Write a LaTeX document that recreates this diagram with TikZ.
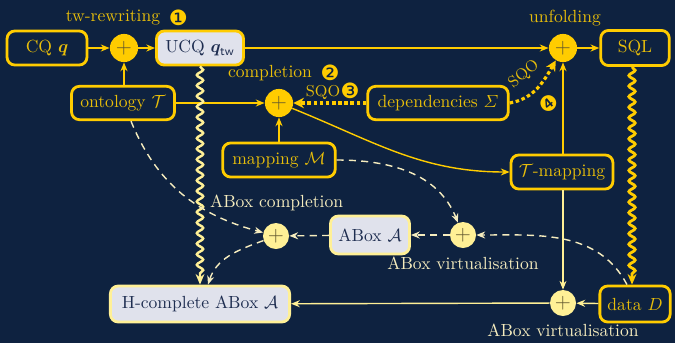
\documentclass[tikz,border=0pt]{standalone}
\usepackage{amsmath}
\usepackage{fontspec}
\usepackage{bm}
\newfontfamily\dingfont{DejaVu Sans}
\usetikzlibrary{arrows.meta,decorations.pathmorphing,calc}
\definecolor{bg}{RGB}{14,34,64}
\definecolor{yel}{RGB}{255,204,0}
\definecolor{yeltext}{RGB}{232,190,10}
\definecolor{ltyel}{RGB}{255,240,150}
\definecolor{cream}{RGB}{245,236,190}
\definecolor{boxfill}{RGB}{224,226,236}
\definecolor{navy}{RGB}{30,45,80}
\definecolor{plusc}{RGB}{95,85,45}
\tikzset{
  box/.style={draw=yel, line width=1.6pt, rounded corners=4.5pt, text=yeltext, minimum height=19.4pt, inner sep=2pt},
  greybox/.style={box, draw=ltyel, fill=boxfill, text=navy},
  uboxst/.style={box, fill=boxfill, text=navy},
  plusnode/.style={circle, fill=yel, minimum size=16pt, inner sep=0pt, text=plusc, font=\large},
  ltplus/.style={plusnode, fill=ltyel, minimum size=14.8pt},
  arr/.style={-{Stealth[length=5pt,width=4pt]}, draw=yel, line width=0.8pt},
  ltarr/.style={arr, draw=ltyel},
  dsh/.style={-{Stealth[length=5pt,width=4pt]}, draw=cream, line width=0.8pt, dash pattern=on 4pt off 3pt},
  dotline/.style={draw=yel, line width=1.8pt, dash pattern=on 2pt off 1.5pt, -{Stealth[length=6pt,width=6pt]}},
  snk/.style={decorate, decoration={snake, amplitude=1.8pt, segment length=6pt, post length=5pt}},
  lbl/.style={text=yeltext, inner sep=1pt},
  ltlbl/.style={text=cream, inner sep=1pt},
  cnum/.style={font=\large\dingfont, text=yel, inner sep=0.5pt}
}
\begin{document}
\begin{tikzpicture}[x=0.569pt,y=0.569pt]
\fill[bg] (0,0) rectangle (675,-343);
\useasboundingbox (0,0) rectangle (675,-343);

% nodes
\node[box, minimum width=45.5pt] (cq) at (47,-48) {CQ $\bm{q}$};
\node[plusnode] (p1) at (124,-48) {$+$};
\node[uboxst, minimum width=49.5pt] (ucq) at (200,-48) {UCQ $\bm{q}_{\mathsf{tw}}$};
\node[plusnode] (unf) at (563,-48) {$+$};
\node[box, minimum width=39pt, minimum height=20pt] (sql) at (635,-48) {SQL};
\node[box, minimum width=58.6pt, minimum height=19pt] (ont) at (123,-103) {ontology $\mathcal{T}$};
\node[plusnode] (comp) at (279,-103) {$+$};
\node[box, minimum width=80pt, minimum height=19pt] (dep) at (438,-103) {dependencies $\varSigma$};
\node[box, minimum width=64pt] (map) at (279,-160) {mapping $\mathcal{M}$};
\node[box, minimum width=58pt] (tmap) at (562,-172) {$\mathcal{T}$-mapping};
\node[ltplus] (pc) at (276,-236) {$+$};
\node[greybox, minimum width=45pt, minimum height=21.6pt] (abox) at (370,-235) {ABox $\mathcal{A}$};
\node[ltplus] (pv) at (463,-235) {$+$};
\node[greybox, minimum width=102pt, minimum height=20.5pt] (hc) at (200,-304) {H-complete ABox $\mathcal{A}$};
\node[ltplus] (pb) at (563,-303) {$+$};
\node[box, minimum width=40pt, minimum height=20.5pt] (data) at (635,-304) {data $D$};

% connectors
\draw[arr] (cq) -- (p1);
\draw[arr] (p1) -- (ucq);
\draw[arr] (ont.north -| p1) -- (p1);
\draw[arr] (ont) -- (comp);
\draw[arr] (ucq) -- (unf);
\draw[arr] (unf) -- (sql);
\draw[dotline] (dep) -- (comp);
\draw[dotline] (dep.east) to[out=10,in=240] (unf);
\draw[arr] (map) -- (comp);
\draw[arr] (comp) to[out=-22,in=180] (tmap.west);
\draw[arr] (tmap.north -| unf) -- (unf);
\draw[ltarr, line width=0.6pt] (tmap.south -| pb) -- (pb);
\draw[ltarr] (data) -- (pb);
\draw[ltarr] (pb) -- (hc);
\draw[yel, line width=1.6pt, snk, -{Stealth[length=6pt,width=5pt]}] ($(sql.south)+(-3,0)$) -- ($(data.north)+(-3,0)$);
\draw[ltyel, line width=1.4pt, snk, -{Stealth[length=6pt,width=5pt]}] (ucq) -- (hc);
\draw[dsh] ($(ont.south)+(8,0)$) to[out=-68,in=165] (pc);
\draw[dsh] (map.east) to[out=0,in=112] (pv);
\draw[dsh] ($(data.north)+(-8,0)$) to[out=118,in=0] (pv);
\draw[dsh] (pv) -- (abox);
\draw[dsh] (abox) -- (pc);
\draw[dsh] (pc) to[out=200,in=72] ($(hc.north)+(8,0)$);

% labels
\node[lbl] (lt) at (113,-18) {tw-rewriting};
\node[cnum, anchor=west] (n1) at ([xshift=3pt]lt.east) {❶};
\node[lbl] (lu) at (565,-18) {unfolding};
\node[lbl] (lc) at (270,-73) {completion};
\node[cnum, anchor=west] (n2) at ([xshift=3pt]lc.east) {❷};
\node[lbl, font=\small] (ls) at (323,-92) {SQO};
\node[cnum] (n3) at (350,-91) {❸};
\node[lbl, font=\small, rotate=40] (ls2) at (524,-74) {SQO};
\node[cnum, rotate=40] (n4) at (549,-104) {❹};
\node[ltlbl, anchor=west] (lac) at (208,-203) {ABox completion};
\node[ltlbl] (lav) at (463,-263) {ABox virtualisation};
\node[ltlbl] (lavb) at (563,-330) {ABox virtualisation};
\end{tikzpicture}
\end{document}
